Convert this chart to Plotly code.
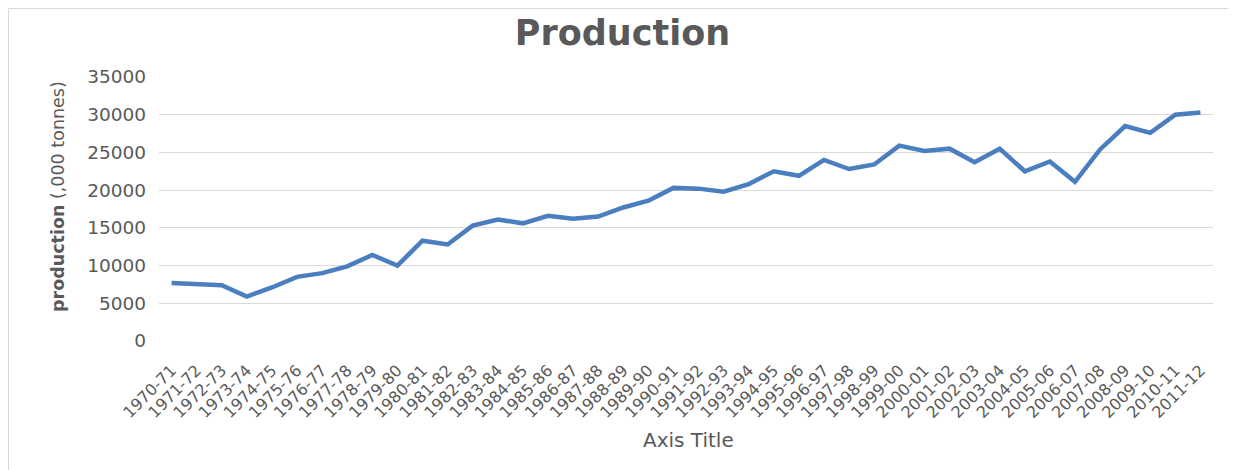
import plotly.graph_objects as go

seasons = [f"{y}-{str(y + 1)[-2:]}" for y in range(1970, 2012)]
production = [7700, 7500, 7400, 5900, 7100, 8500, 9000, 9900, 11400, 10000,
              13300, 12800, 15300, 16100, 15600, 16600, 16200, 16500, 17700, 18600,
              20300, 20200, 19800, 20800, 22500, 21900, 24000, 22800, 23400, 25900,
              25200, 25500, 23700, 25500, 22500, 23800, 21100, 25400, 28500, 27600,
              30000, 30300]
y_ticks = [0, 5000, 10000, 15000, 20000, 25000, 30000, 35000]

# page body has an 8px margin, so the figure is drawn 8px in from the top-left
OFF = 8
W, H = 1236 - OFF, 470 - OFF
L, R, T, B = 159 - OFF, 23, 77 - OFF, 129
pw, ph = W - L - R, H - T - B

grey = "#595959"
font = "DejaVu Sans"


def px_x(page_x):
    return (page_x - OFF - L) / pw


def px_y(page_y):
    return (T + ph - (page_y - OFF)) / ph


fig = go.Figure(go.Scatter(
    x=seasons, y=production, mode="lines",
    line=dict(color="#4a7ebf", width=4.5),
    hoverinfo="x+y",
))

fig.update_layout(
    width=W, height=H,
    margin=dict(l=L, r=R, t=T, b=B, autoexpand=False),
    paper_bgcolor="white", plot_bgcolor="white",
    showlegend=False,
    font=dict(family=font, color=grey),
    title=dict(text="<b>Production</b>", x=(622.5 - OFF) / W, y=1 - (33 - OFF) / H,
               xanchor="center", yanchor="middle", xref="container", yref="container",
               font=dict(family=font, size=35, color=grey)),
    xaxis=dict(
        type="category", tickangle=-45, tickfont=dict(size=16, color=grey),
        showgrid=False, showline=False, zeroline=False, ticks="", ticklabelstandoff=16,
        range=[-0.5, len(seasons) - 0.5], automargin=False,
    ),
    yaxis=dict(
        range=[0, 35000], tickvals=y_ticks, ticktext=[str(v) for v in y_ticks],
        tickfont=dict(size=18.5, color=grey), showgrid=True, gridcolor="#d9d9d9",
        gridwidth=1, zeroline=False, showline=False, ticks="", ticklabelstandoff=12,
        automargin=False,
    ),
    annotations=[
        dict(text="Axis Title", xref="paper", yref="paper",
             x=px_x(688), y=px_y(440), showarrow=False,
             xanchor="center", yanchor="middle", font=dict(size=20, color=grey)),
        dict(text="<b>production</b> (,000 tonnes)", xref="paper", yref="paper",
             x=px_x(58), y=px_y(197), showarrow=False, textangle=-90,
             xanchor="center", yanchor="middle", font=dict(size=17.5, color=grey)),
    ],
    shapes=[
        dict(type="line", xref="paper", yref="paper", x0=px_x(8.5), x1=px_x(1236),
             y0=px_y(8.5), y1=px_y(8.5), line=dict(color="#d9d9d9", width=1)),
        dict(type="line", xref="paper", yref="paper", x0=px_x(8.5), x1=px_x(8.5),
             y0=px_y(8.5), y1=px_y(470), line=dict(color="#d9d9d9", width=1)),
    ],
)

fig.write_html("out.html")
